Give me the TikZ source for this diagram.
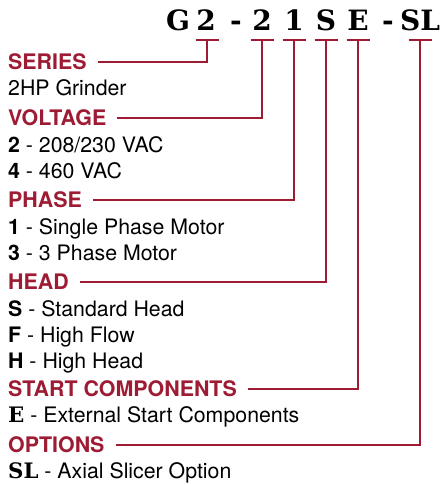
\documentclass[tikz,border=0pt]{standalone}
\usepackage{fontspec}
\setmainfont{TeX Gyre Heros}
\newfontfamily\codefont{DejaVu Serif}
\definecolor{keyRED}{HTML}{9E1B34}
\newcommand{\cb}[1]{{\codefont\bfseries #1}}

\begin{document}
\begin{tikzpicture}[x=1pt, y=-1pt,
  hd/.style={anchor=west, inner sep=0pt, text height=15pt, text depth=0pt,
             font=\fontsize{21.4}{23}\selectfont\bfseries, text=keyRED},
  ds/.style={anchor=base west, inner sep=0pt, font=\fontsize{21.3}{23}\selectfont},
  ch/.style={anchor=base, inner sep=0pt, font=\fontsize{28}{30}\selectfont\codefont\bfseries},
  kl/.style={draw=keyRED, line width=2pt}]
\useasboundingbox (0,0) rectangle (444,485);
% model code
\foreach \x/\t in {178/G, 206/2, 236/-, 262/2, 294/1, 326/S, 358/E, 388/-, 420/SL}
  {\node[ch] at (\x,30) {\t};}
% ticks
\foreach \n/\x in {t1/207, t2/262, t3/294, t4/326, t5/358, t6/420}
  {\coordinate (\n) at (\x,40);
   \draw[kl] ([xshift=-11.5pt]\n) -- ([xshift=11.5pt]\n);}
% headings
\node[hd] (ser) at (8,62) {SERIES};
\node[hd] (vol) at (8,118) {VOLTAGE};
\node[hd] (pha) at (8,200) {PHASE};
\node[hd] (hea) at (8,282) {HEAD};
\node[hd] (sta) at (8,389) {START COMPONENTS};
\node[hd] (opt) at (8,445) {OPTIONS};
\foreach \h/\t in {ser/t1, vol/t2, pha/t3, hea/t4, sta/t5, opt/t6}
  {\draw[kl] ([xshift=11pt]\h.east) -| (\t);}
% choices
\node[ds] (d1) at (8,95) {2HP Grinder};
\node[ds] (d2) at (8,152) {\textbf{2} - 208/230 VAC};
\node[ds] (d3) at (8,178) {\textbf{4} - 460 VAC};
\node[ds] (d4) at (8,234) {\textbf{1} - Single Phase Motor};
\node[ds] (d5) at (8,260) {\textbf{3} - 3 Phase Motor};
\node[ds] (d6) at (8,316) {\textbf{S} - Standard Head};
\node[ds] (d7) at (8,342) {\textbf{F} - High Flow};
\node[ds] (d8) at (8,368) {\textbf{H} - High Head};
\node[ds] (d9) at (8,422) {\cb{E} - External Start Components};
\node[ds] (d10) at (8,478) {\cb{SL} - Axial Slicer Option};
\end{tikzpicture}
\end{document}
